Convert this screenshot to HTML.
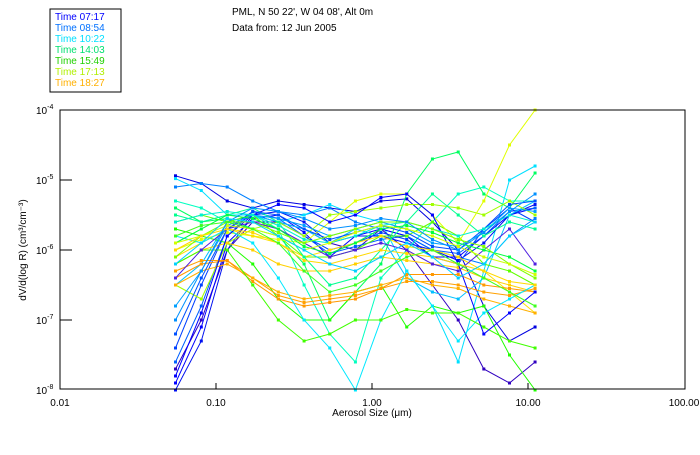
<!DOCTYPE html>
<html><head><meta charset="utf-8"><style>
body{margin:0;background:#fff;}
svg text{font-family:"Liberation Sans",sans-serif;font-size:10px;fill:#000;}
</style></head><body>
<svg id="chart" width="700" height="450" xmlns="http://www.w3.org/2000/svg">
<rect x="0" y="0" width="700" height="450" fill="#fff"/>
<g>
<rect x="50" y="9" width="71" height="83" fill="#fff" stroke="#000" stroke-width="1"/>
<text x="55" y="20" style="fill:#0000ff">Time 07:17</text>
<text x="55" y="31" style="fill:#0070ff">Time 08:54</text>
<text x="55" y="42" style="fill:#00e0ff">Time 10:22</text>
<text x="55" y="53" style="fill:#00e070">Time 14:03</text>
<text x="55" y="64" style="fill:#20d000">Time 15:49</text>
<text x="55" y="75" style="fill:#b0f000">Time 17:13</text>
<text x="55" y="86" style="fill:#ffb000">Time 18:27</text>
</g>
<text x="232" y="15">PML, N 50 22', W 04 08', Alt 0m</text>
<text x="232" y="31">Data from: 12 Jun 2005</text>
<g id="series"></g>
<rect x="60" y="110" width="625" height="279" fill="none" stroke="#000" stroke-width="1"/>
<g id="axes"></g>
<text x="372" y="416" text-anchor="middle">Aerosol Size (μm)</text>
<text transform="translate(26,250) rotate(-90)" text-anchor="middle">dV/d(log R) (cm³/cm⁻³)</text>
</svg>
<script>
const sizes=[0.055,0.0805,0.118,0.172,0.251,0.367,0.536,0.783,1.14,1.67,2.44,3.57,5.21,7.61,11.1];
const xTicks=[0.01,0.1,1,10,100];
const xTickLabels=["0.01","0.10","1.00","10.00","100.00"];
const yTicks=[-4,-5,-6,-7,-8];
const colors=["#0000e0","#0080ff","#00e0ff","#3000c0","#0000ff","#0010f0","#0060ff","#0040ff","#00c0ff","#00ffc0","#00ff60","#20ff00","#60ff00","#a0ff00","#e0ff00","#ffe000","#ffd000","#ffa000","#ff9800","#ffb000","#00e8ff","#00ff90","#40ff00","#0000ff","#5020e0","#0050ff","#00a0ff","#00f0d0","#00ff40","#80ff00","#d0ff00","#ffd800","#0090ff","#40ff20","#00d0ff"];
const logValues=[
[-4.94,-5.05,-5.3,-5.4,-5.3,-5.35,-5.4,-5.45,-5.3,-5.27,-5.6,-6.0,-6.8,-7.3,-7.1],
[-5.1,-5.05,-5.1,-5.3,-5.45,-5.5,-5.4,-5.6,-5.7,-5.8,-6.0,-6.1,-6.2,-5.8,-5.55],
[-4.98,-5.15,-5.5,-5.5,-5.6,-5.5,-5.35,-5.5,-5.6,-6.3,-6.8,-7.6,-6.3,-5.0,-4.8],
[-7.7,-7.0,-6.0,-5.6,-5.6,-5.7,-5.9,-6.0,-5.7,-6.0,-6.5,-7.0,-7.7,-7.9,-7.6],
[-7.9,-7.1,-5.9,-5.55,-5.5,-5.75,-6.1,-5.8,-5.7,-5.8,-6.1,-6.1,-5.8,-5.5,-5.4],
[-8.0,-7.3,-6.0,-5.5,-5.45,-5.6,-5.9,-5.8,-5.8,-5.9,-6.0,-6.15,-5.9,-5.5,-5.35],
[-7.6,-6.8,-5.8,-5.45,-5.55,-5.8,-6.05,-5.95,-5.85,-5.8,-6.0,-6.05,-5.8,-5.45,-5.4],
[-7.4,-6.5,-5.7,-5.5,-5.6,-5.8,-6.0,-5.9,-5.75,-5.85,-6.1,-6.2,-5.7,-5.4,-5.6],
[-6.5,-6.2,-5.6,-5.5,-5.6,-5.7,-5.9,-5.7,-5.8,-6.4,-6.6,-6.7,-6.4,-5.5,-5.3],
[-5.3,-5.4,-5.6,-5.5,-5.7,-6.5,-7.2,-7.6,-6.4,-6.0,-5.6,-5.2,-5.1,-5.3,-5.3],
[-5.4,-5.6,-5.55,-5.7,-5.8,-6.2,-7.0,-6.6,-6.2,-5.2,-4.7,-4.6,-5.2,-5.4,-4.9],
[-5.7,-5.8,-5.9,-6.2,-6.7,-7.0,-7.0,-6.6,-6.5,-7.1,-6.8,-6.9,-6.8,-7.5,-8.0],
[-5.6,-5.5,-5.6,-5.5,-5.8,-6.1,-6.1,-6.0,-5.8,-5.8,-5.6,-5.8,-6.2,-6.3,-6.5],
[-6.5,-6.7,-5.9,-5.7,-5.6,-5.8,-5.5,-5.45,-5.4,-5.35,-5.35,-5.4,-5.5,-5.3,-5.5],
[-6.0,-5.85,-5.75,-5.8,-5.85,-5.9,-5.6,-5.3,-5.2,-5.2,-5.5,-5.9,-5.3,-4.5,-4.0],
[-6.1,-5.9,-5.7,-5.8,-5.9,-6.1,-6.0,-5.9,-5.8,-5.95,-6.0,-6.1,-6.3,-6.6,-6.9],
[-6.2,-6.0,-5.9,-6.0,-6.2,-6.3,-6.3,-6.2,-6.1,-6.15,-6.2,-6.25,-6.4,-6.5,-6.6],
[-6.3,-6.15,-6.15,-6.4,-6.65,-6.75,-6.7,-6.65,-6.55,-6.45,-6.45,-6.5,-6.6,-6.65,-6.55],
[-6.4,-6.2,-6.15,-6.45,-6.7,-6.8,-6.75,-6.7,-6.55,-6.35,-6.35,-6.35,-6.5,-6.55,-6.6],
[-6.5,-6.3,-6.2,-6.4,-6.6,-6.7,-6.65,-6.6,-6.5,-6.4,-6.5,-6.55,-6.7,-6.8,-6.9],
[-5.8,-5.9,-5.7,-5.9,-6.4,-7.0,-7.4,-8.0,-7.0,-6.3,-6.8,-7.3,-6.9,-6.7,-6.5],
[-5.5,-5.6,-5.5,-5.4,-5.6,-6.1,-6.5,-6.4,-6.0,-5.6,-5.2,-5.5,-5.8,-5.6,-5.7],
[-6.2,-6.0,-6.0,-6.5,-7.0,-7.3,-7.2,-7.0,-7.0,-6.85,-6.9,-6.9,-7.1,-7.3,-7.4],
[-7.8,-6.9,-5.8,-5.5,-5.35,-5.4,-5.6,-5.5,-5.25,-5.2,-5.5,-6.2,-7.2,-6.9,-6.6],
[-6.4,-6.0,-5.7,-5.6,-5.7,-5.9,-6.1,-6.0,-5.9,-6.0,-6.2,-6.3,-6.0,-5.7,-6.2],
[-7.2,-6.4,-5.7,-5.45,-5.5,-5.7,-5.85,-5.75,-5.65,-5.75,-5.95,-6.0,-5.7,-5.35,-5.3],
[-6.8,-6.3,-5.65,-5.5,-5.55,-5.65,-5.8,-5.7,-5.6,-5.7,-5.9,-5.95,-5.75,-5.4,-5.45],
[-5.6,-5.5,-5.45,-5.5,-5.65,-5.85,-5.9,-5.8,-5.65,-5.6,-5.7,-5.8,-5.7,-5.5,-5.6],
[-5.9,-5.7,-5.5,-5.55,-5.7,-5.95,-6.05,-5.9,-5.7,-5.65,-5.75,-5.9,-6.0,-6.1,-6.3],
[-6.1,-5.8,-5.6,-5.6,-5.75,-5.9,-5.8,-5.7,-5.6,-5.6,-5.7,-5.85,-5.95,-6.2,-6.4],
[-5.9,-5.8,-5.65,-5.7,-5.8,-6.0,-5.9,-5.75,-5.65,-5.7,-5.8,-5.95,-6.1,-6.2,-6.35],
[-6.0,-5.8,-5.7,-5.75,-5.9,-6.15,-6.2,-6.1,-6.0,-6.05,-6.1,-6.2,-6.3,-6.45,-6.5],
[-7.0,-6.3,-5.6,-5.4,-5.45,-5.55,-5.7,-5.65,-5.55,-5.6,-5.85,-6.0,-5.75,-5.45,-5.2],
[-5.8,-5.65,-5.6,-5.7,-5.9,-6.3,-6.6,-6.5,-6.3,-6.1,-6.0,-6.2,-6.4,-6.6,-6.8],
[-6.2,-5.9,-5.55,-5.6,-5.8,-6.0,-6.2,-6.3,-6.1,-5.9,-6.1,-6.4,-6.2,-5.8,-5.6]
];
const NS="http://www.w3.org/2000/svg";
function xScale(v){return 60+156*(Math.log10(v)+2);}
function yScale(e){return 110+70*(-4-e);}
const sg=document.getElementById('series');
logValues.forEach(function(row,i){
  const pts=row.map(function(e,j){return xScale(sizes[j]).toFixed(1)+","+yScale(e).toFixed(1);}).join(" ");
  const pl=document.createElementNS(NS,'polyline');
  pl.setAttribute('points',pts);
  pl.setAttribute('fill','none');
  pl.setAttribute('stroke',colors[i]);
  pl.setAttribute('stroke-width','1');
  
  
  sg.appendChild(pl);
  row.forEach(function(e,j){
    const r=document.createElementNS(NS,'rect');
    r.setAttribute('x',xScale(sizes[j])-1.5);
    r.setAttribute('y',yScale(e)-1.5);
    r.setAttribute('width',3);r.setAttribute('height',3);
    r.setAttribute('fill',colors[i]);
    
    
    sg.appendChild(r);
  });
});
const ax=document.getElementById('axes');
xTicks.forEach(function(v,i){
  const x=xScale(v);
  if(i>0&&i<xTicks.length-1){
    const l=document.createElementNS(NS,'line');
    l.setAttribute('x1',x);l.setAttribute('x2',x);l.setAttribute('y1',389);l.setAttribute('y2',383);
    l.setAttribute('stroke','#000');
    
    
    ax.appendChild(l);
  }
  const t=document.createElementNS(NS,'text');
  t.setAttribute('x',x);t.setAttribute('y',406);t.setAttribute('text-anchor','middle');
  t.textContent=xTickLabels[i];
  
  
  ax.appendChild(t);
});
yTicks.forEach(function(e,i){
  const y=yScale(e);
  if(i>0&&i<yTicks.length-1){
    const l=document.createElementNS(NS,'line');
    l.setAttribute('x1',60);l.setAttribute('x2',72);l.setAttribute('y1',y);l.setAttribute('y2',y);
    l.setAttribute('stroke','#000');
    
    
    ax.appendChild(l);
  }
  const t=document.createElementNS(NS,'text');
  t.setAttribute('x',36);t.setAttribute('y',y+4);
  t.innerHTML='10<tspan dy="-5" font-size="7">'+e+'</tspan>';
  
  
  ax.appendChild(t);
});
</script>
</body></html>
